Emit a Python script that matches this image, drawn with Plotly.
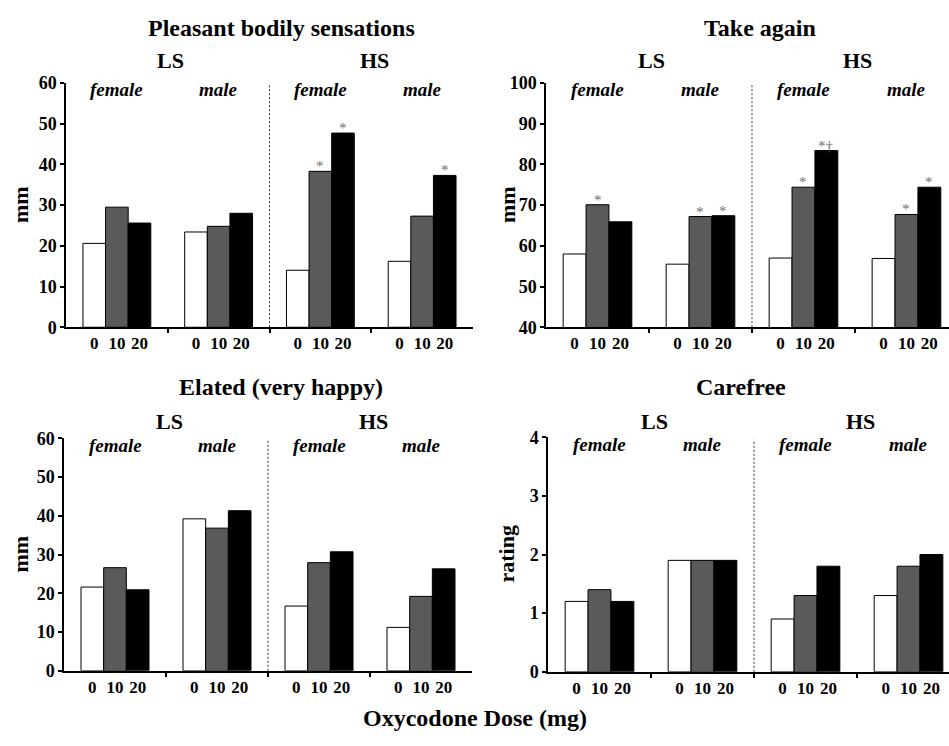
import plotly.graph_objects as go

# ---------------- data ----------------
groups = ["LS female", "LS male", "HS female", "HS male"]
group_sex = ["female", "male", "female", "male"]
doses = ["0", "10", "20"]

pleasant_0 = [20.6, 23.4, 14.0, 16.2]
pleasant_10 = [29.5, 24.8, 38.3, 27.3]
pleasant_20 = [25.6, 28.0, 47.7, 37.3]
pleasant_sig_10 = ["", "", "*", ""]
pleasant_sig_20 = ["", "", "*", "*"]

take_0 = [58.0, 55.5, 57.0, 56.9]
take_10 = [70.1, 67.2, 74.4, 67.7]
take_20 = [65.9, 67.4, 83.4, 74.4]
take_sig_10 = ["*", "*", "*", "*"]
take_sig_20 = ["", "*", "*†", "*"]

elated_0 = [21.6, 39.2, 16.7, 11.2]
elated_10 = [26.6, 36.8, 27.9, 19.2]
elated_20 = [20.9, 41.3, 30.7, 26.3]

carefree_0 = [1.2, 1.9, 0.9, 1.3]
carefree_10 = [1.4, 1.9, 1.3, 1.8]
carefree_20 = [1.2, 1.9, 1.8, 2.0]

no_sig = ["", "", "", ""]

panels = [
    dict(title="Pleasant bodily sensations", ylabel="mm", vals=[pleasant_0, pleasant_10, pleasant_20],
         sig=[no_sig, pleasant_sig_10, pleasant_sig_20], yrange=[0, 60], dtick=10),
    dict(title="Take again", ylabel="mm", vals=[take_0, take_10, take_20],
         sig=[no_sig, take_sig_10, take_sig_20], yrange=[40, 100], dtick=10),
    dict(title="Elated (very happy)", ylabel="mm", vals=[elated_0, elated_10, elated_20],
         sig=[no_sig, no_sig, no_sig], yrange=[0, 60], dtick=10),
    dict(title="Carefree", ylabel="rating", vals=[carefree_0, carefree_10, carefree_20],
         sig=[no_sig, no_sig, no_sig], yrange=[0, 4], dtick=1),
]

# ---------------- layout geometry ----------------
W, H = 949, 746
FONT = "Liberation Serif"
bar_colors = ["#ffffff", "#5a5a5a", "#000000"]
bar_w = 2 / 9  # each dose bar width in group units (bargap = 1/3)

# pixel geometry per panel: (x_left, x_right, y_top, y_bottom, x_range_end, title_x, title_y, sub_y, ylabel_x)
geom = [
    (66, 473, 75, 326, 3.5, 281, 18, 52, 20),
    (546, 949, 75, 326, 3.413, 760, 18, 52, 507),
    (64, 472, 440, 679, 3.5, 281, 387, 423, 20),
    (548, 949, 439, 680, 3.393, 741, 387, 423, 506),
]

fig = go.Figure()
annotations = []
shapes = []
layout = dict(
    width=W, height=H, margin=dict(l=0, r=0, t=0, b=0),
    paper_bgcolor="white", plot_bgcolor="white",
    barmode="group", bargap=1 / 3, bargroupgap=0, showlegend=False,
    font=dict(family=FONT, color="black"),
)

xg = list(range(len(groups)))
tickvals = [g + (d - 1) * bar_w for g in xg for d in range(len(doses))]
ticktext = [doses[d] for g in xg for d in range(len(doses))]

for i, p in enumerate(panels):
    n = "" if i == 0 else str(i + 1)
    xa, ya = "x" + n, "y" + n
    xl, xr, yt, yb, xend, tx, ty, sy, ylx = geom[i]
    for d in range(len(doses)):
        fig.add_trace(go.Bar(
            x=xg, y=p["vals"][d], xaxis=xa, yaxis=ya, offsetgroup=str(d),
            marker=dict(color=bar_colors[d], line=dict(color="black", width=1)),
            name=doses[d] + " mg",
        ))
        for g in xg:
            s = p["sig"][d][g]
            if s:
                annotations.append(dict(
                    x=g + (d - 1) * bar_w, y=p["vals"][d][g], xref=xa, yref=ya,
                    text=s, showarrow=False, yanchor="bottom", yshift=-5,
                    font=dict(family=FONT, size=15, color="#6e6e6e"),
                ))
    layout["xaxis" + n] = dict(
        domain=[xl / W, xr / W], range=[-0.5, xend], anchor=ya,
        tickmode="array", tickvals=tickvals, ticktext=ticktext, ticks="",
        tickfont=dict(family=FONT, size=17, weight="bold"),
        showline=True, linecolor="black", linewidth=1.5, showgrid=False, zeroline=False,
        minor=dict(tickmode="array", tickvals=[0.5, 1.5, 2.5], ticks="outside",
                   ticklen=4, tickcolor="black", tickwidth=1.5),
        fixedrange=True,
    )
    layout["yaxis" + n] = dict(
        domain=[1 - yb / H, 1 - yt / H], range=p["yrange"], anchor=xa, dtick=p["dtick"],
        ticks="outside", ticklen=4, tickwidth=1.5, tickcolor="black",
        tickfont=dict(family=FONT, size=18, weight="bold"),
        showline=True, linecolor="black", linewidth=1.5, showgrid=False, zeroline=False,
        fixedrange=True,
    )
    # dashed separator between LS and HS
    shapes.append(dict(type="line", xref=xa, yref=ya + " domain", x0=1.5, x1=1.5, y0=0, y1=0.99,
                       line=dict(color="#333333", width=1, dash="2px,2px")))
    # panel title
    annotations.append(dict(x=tx / W, y=1 - ty / H, xref="paper", yref="paper", text=p["title"],
                            showarrow=False, xanchor="center", yanchor="middle",
                            font=dict(family=FONT, size=24, weight="bold")))
    # LS / HS
    for lab, xv in (("LS", 0.5), ("HS", 2.5)):
        annotations.append(dict(x=xv, y=1 - sy / H, xref=xa, yref="paper", text=lab, xshift=3,
                                showarrow=False, xanchor="center", yanchor="middle",
                                font=dict(family=FONT, size=22, weight="bold")))
    # female / male
    for g in xg:
        annotations.append(dict(x=g, y=1, xref=xa, yref=ya + " domain", text=group_sex[g],
                                yshift=-7, showarrow=False, xanchor="center", yanchor="middle",
                                font=dict(family=FONT, size=19, weight="bold", style="italic")))
    # y label
    annotations.append(dict(x=ylx / W, y=1 - (yt + yb) / 2 / H, xref="paper", yref="paper",
                            text=p["ylabel"], textangle=-90, showarrow=False,
                            xanchor="center", yanchor="middle",
                            font=dict(family=FONT, size=22, weight="bold")))

annotations.append(dict(x=475 / W, y=1 - 728 / H, xref="paper", yref="paper",
                        text="Oxycodone Dose (mg)", showarrow=False, xanchor="center", yanchor="middle",
                        font=dict(family=FONT, size=24, weight="bold")))

layout["annotations"] = annotations
layout["shapes"] = shapes
fig.update_layout(**layout)
fig.write_html("out.html", config={"displayModeBar": False},
               post_script="document.body.style.margin='0px';")
